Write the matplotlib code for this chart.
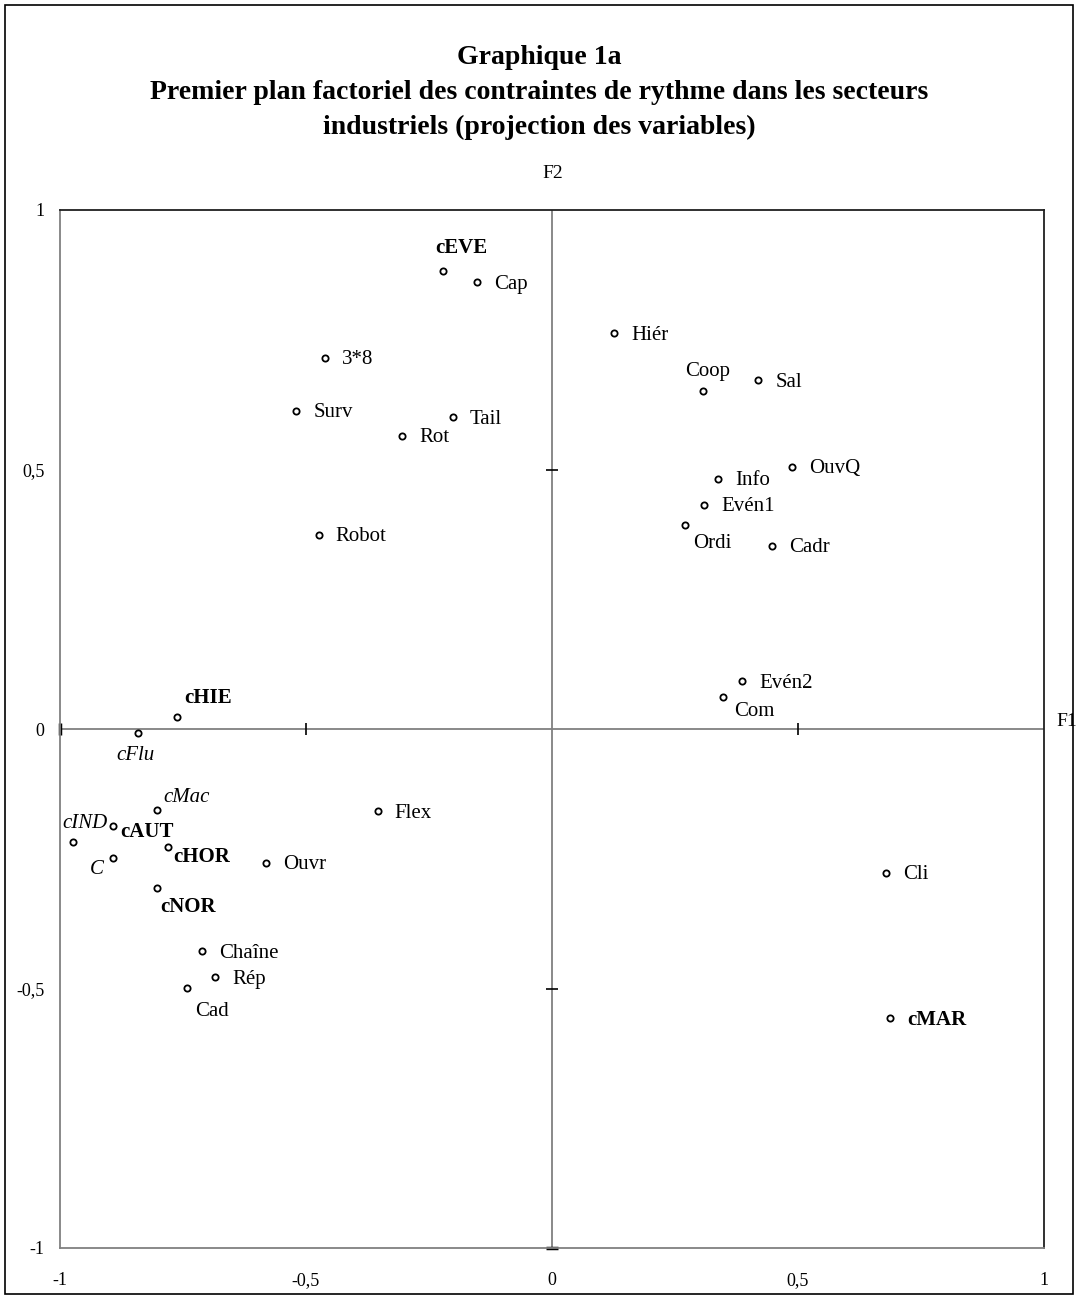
import matplotlib
matplotlib.use('Agg')
import matplotlib.pyplot as plt
from matplotlib.patches import Rectangle

plt.rcParams['font.family'] = ['Liberation Serif', 'DejaVu Serif']

# Coordinates of the variables on the first factorial plane (F1, F2)
names = ['cEVE', 'Cap', 'Hiér', '3*8', 'Coop', 'Sal', 'Surv', 'Tail', 'Rot',
         'OuvQ', 'Info', 'Evén1', 'Ordi', 'Cadr', 'Robot', 'Evén2', 'Com',
         'cHIE', 'cFlu', 'Flex', 'cMac', 'cAUT', 'cIND', 'cHOR', 'C', 'Ouvr',
         'cNOR', 'Cli', 'Chaîne', 'Rép', 'Cad', 'cMAR']
f1 = [-0.222, -0.152, 0.126, -0.461, 0.307, 0.419, -0.520, -0.201, -0.305,
      0.488, 0.337, 0.309, 0.270, 0.447, -0.474, 0.386, 0.348,
      -0.762, -0.841, -0.354, -0.803, -0.892, -0.974, -0.780, -0.892, -0.581,
      -0.803, 0.679, -0.711, -0.685, -0.742, 0.687]
f2 = [0.882, 0.861, 0.763, 0.715, 0.651, 0.672, 0.613, 0.601, 0.565,
      0.505, 0.482, 0.432, 0.393, 0.353, 0.374, 0.092, 0.062,
      0.023, -0.008, -0.158, -0.156, -0.187, -0.218, -0.227, -0.249, -0.258,
      -0.306, -0.277, -0.428, -0.478, -0.499, -0.557]

bold_names = {'cEVE', 'cHIE', 'cAUT', 'cHOR', 'cNOR', 'cMAR'}
italic_names = {'cFlu', 'cMac', 'cIND', 'C'}

ticks = [-1, -0.5, 0, 0.5, 1]
tick_labels = ['-1', '-0,5', '0', '0,5', '1']

# label placement (pixels from the marker, alignment); default is to the right
placement = {
    'cEVE': (19, 23, 'center'),
    'Coop': (5, 20, 'center'),
    'Ordi': (27, -18, 'center'),
    'Com': (31, -15, 'center'),
    'cHIE': (31, 19, 'center'),
    'cFlu': (-3, -22, 'center'),
    'cMac': (30, 12, 'center'),
    'cIND': (12, 19, 'center'),
    'cHOR': (5, -10, 'left'),
    'C': (-16, -11, 'center'),
    'cNOR': (31, -19, 'center'),
    'Cad': (25, -24, 'center'),
    'cAUT': (7, -6, 'left'),
}

fig = plt.figure(figsize=(10.78, 12.99), dpi=100)
ax = fig.add_axes([60 / 1078, 1 - 1248 / 1299, 984 / 1078, 1038 / 1299])

ax.axhline(0, color='#808080', lw=1.3, zorder=1)
ax.axvline(0, color='#808080', lw=1.3, zorder=1)
# small ticks on the central axes
ax.plot([-0.5, 0.5], [0, 0], ls='none', marker='|', ms=8, mew=1.2, color='black', zorder=2)
ax.plot([0, 0], [-0.5, 0.5], ls='none', marker='_', ms=8, mew=1.2, color='black', zorder=2)
# darker bits where the central axes meet the frame
ax.plot([-1], [0], ls='none', marker='|', ms=9, mew=2.5, color='black', clip_on=False, zorder=2)
ax.plot([0], [-1], ls='none', marker='_', ms=9, mew=2.5, color='black', clip_on=False, zorder=2)

ax.plot(f1, f2, ls='none', marker='o', ms=4.5, mfc='white', mec='black', mew=1.3, zorder=3)

for n, x, y in zip(names, f1, f2):
    dx, dy, ha = placement.get(n, (17, -2, 'left'))
    weight = 'bold' if n in bold_names else 'normal'
    style = 'italic' if n in italic_names else 'normal'
    ax.annotate(n, (x, y), xytext=(dx, dy), textcoords='offset pixels',
                ha=ha, va='center', fontsize=15, fontweight=weight,
                fontstyle=style, zorder=4)

ax.set_xlim(-1, 1)
ax.set_ylim(-1, 1)
ax.set_xticks(ticks)
ax.set_xticklabels(tick_labels, fontsize=13)
ax.set_yticks(ticks)
ax.set_yticklabels(tick_labels, fontsize=13)
ax.tick_params(axis='x', length=0, pad=17)
ax.tick_params(axis='y', length=0, pad=11)

for side in ['left', 'bottom']:
    ax.spines[side].set_color('#808080')
for side in ['top', 'right']:
    ax.spines[side].set_color('#202020')
for s in ax.spines.values():
    s.set_linewidth(1.3)

ax.text(553 / 1078, 1 - 173 / 1299, 'F2', transform=fig.transFigure,
        ha='center', va='center', fontsize=14)
ax.text(1056 / 1078, 1 - 722 / 1299, 'F1', transform=fig.transFigure,
        ha='left', va='center', fontsize=14)

fig.text(0.5, 1 - 57 / 1299, 'Graphique 1a', ha='center', va='center',
         fontsize=20, fontweight='bold')
fig.text(0.5, 1 - 110 / 1299,
         'Premier plan factoriel des contraintes de rythme dans les secteurs\n'
         'industriels (projection des variables)',
         ha='center', va='center', fontsize=20, fontweight='bold',
         linespacing=1.47)

fig.patches.append(Rectangle((5 / 1078, 5 / 1299), 1068 / 1078, 1289 / 1299,
                             transform=fig.transFigure, fill=False,
                             edgecolor='black', lw=1.2))

fig.savefig('out.png', dpi=100)
